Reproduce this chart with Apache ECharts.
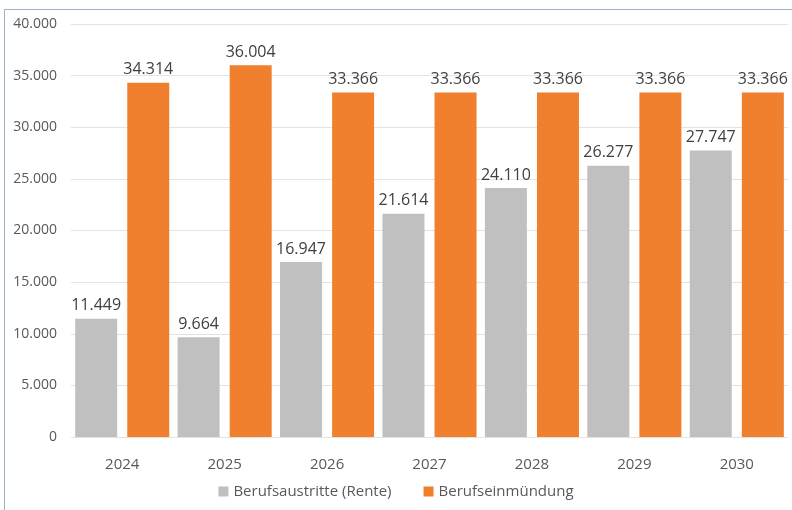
<!DOCTYPE html>
<html>
<head>
<meta charset="utf-8">
<script src="https://cdn.jsdelivr.net/npm/echarts@6/dist/echarts.min.js"></script>
<style>
  html, body { margin: 0; padding: 0; background: #fff; }
  #frame { position: absolute; left: 4px; top: 9px; width: 788px; height: 501px;
           border-top: 1px solid #9fb3c8; border-left: 1px solid #9fb3c8; }
  #chart { position: absolute; left: 0; top: 0; width: 792px; height: 510px; }
</style>
</head>
<body>
<div id="frame"></div>
<div id="chart"></div>
<script>
// Jahre
const years = ['2024', '2025', '2026', '2027', '2028', '2029', '2030'];
// Berufsaustritte (Rente)
const austritte = [11449, 9664, 16947, 21614, 24110, 26277, 27747];
// Berufseinmündung
const einmuendung = [34314, 36004, 33366, 33366, 33366, 33366, 33366];
const seriesNames = ['Berufsaustritte (Rente)', 'Berufseinmündung'];

// Tausenderpunkt
const fmt = (v) => String(v).replace(/\B(?=(\d{3})+(?!\d))/g, '.');

const myChart = echarts.init(document.getElementById('chart'));

const labelStyle = {
    show: true,
    position: 'top',
    distance: 5,
    fontFamily: 'Open Sans',
    fontSize: 16,
    color: '#404040',
    formatter: (p) => fmt(p.value)
};

const option = {
    backgroundColor: 'transparent',
    animation: false,
    textStyle: { fontFamily: 'Open Sans' },
    grid: {
        left: 71,
        right: 4,
        top: 24,
        bottom: 73
    },
    legend: {
        bottom: 6,
        left: 'center',
        itemWidth: 10,
        itemHeight: 10,
        itemGap: 32,
        icon: 'rect',
        textStyle: { fontSize: 15, color: '#595959', fontFamily: 'Open Sans' },
        data: seriesNames
    },
    xAxis: {
        type: 'category',
        data: years,
        axisLine: { show: false },
        axisTick: { show: false },
        axisLabel: { fontSize: 15, color: '#595959', margin: 20 }
    },
    yAxis: {
        type: 'value',
        min: 0,
        max: 40000,
        interval: 5000,
        axisLine: { show: false },
        axisTick: { show: false },
        axisLabel: {
            fontSize: 14,
            color: '#595959',
            margin: 14,
            formatter: (v) => fmt(v)
        },
        splitLine: { lineStyle: { color: '#e3e3e3', width: 1 } }
    },
    series: [
        {
            name: seriesNames[0],
            type: 'bar',
            data: austritte,
            barWidth: 42,
            barGap: '24%',
            itemStyle: { color: '#c0c0c0' },
            label: labelStyle
        },
        {
            name: seriesNames[1],
            type: 'bar',
            data: einmuendung,
            barWidth: 42,
            barGap: '24%',
            itemStyle: { color: '#f07f2e' },
            label: labelStyle
        }
    ]
};

myChart.setOption(option, true);
</script>
</body>
</html>
